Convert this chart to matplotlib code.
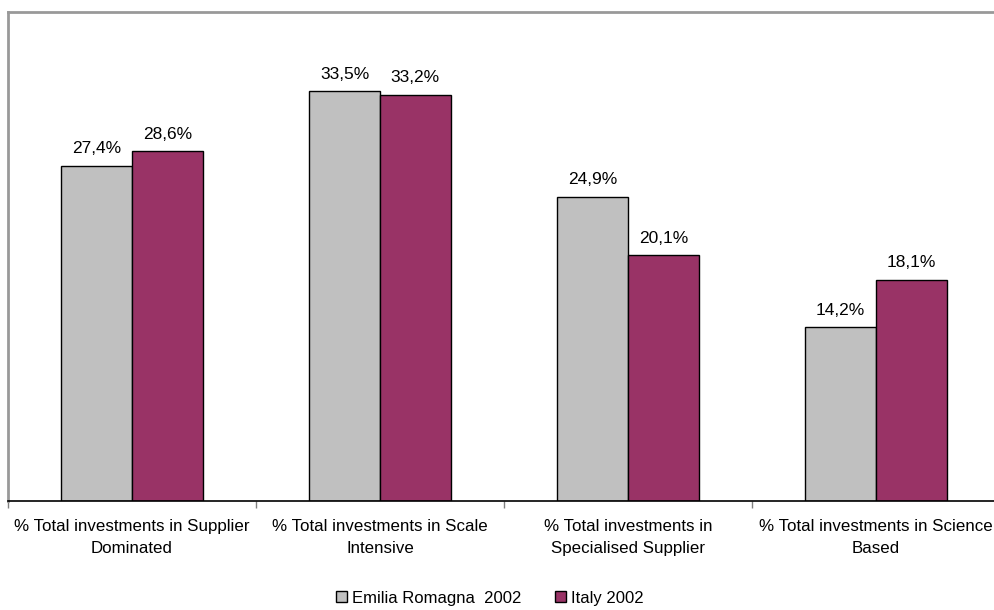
import matplotlib.pyplot as plt
import numpy as np

plt.rcParams['font.family'] = ['Liberation Sans', 'DejaVu Sans']

# Investment shares by sector type
categories = ['% Total investments in Supplier\nDominated',
              '% Total investments in Scale\nIntensive',
              '% Total investments in\nSpecialised Supplier',
              '% Total investments in Science\nBased']
emilia = [27.4, 33.5, 24.9, 14.2]
italy = [28.6, 33.2, 20.1, 18.1]
series_names = ['Emilia Romagna  2002', 'Italy 2002']

fig = plt.figure(figsize=(9.94, 6.1), dpi=100)
# plot area runs a bit past the right edge of the figure
ax = fig.add_axes([8 / 994, 109 / 610, 992 / 994, 489 / 610])

x = np.arange(len(categories))
w = 0.285
b1 = ax.bar(x - w / 2, emilia, w, color='#C0C0C0', edgecolor='black', linewidth=1, label=series_names[0])
b2 = ax.bar(x + w / 2, italy, w, color='#993366', edgecolor='black', linewidth=1, label=series_names[1])

for bars, vals in ((b1, emilia), (b2, italy)):
    for r, v in zip(bars, vals):
        ax.annotate(f'{v:.1f}%'.replace('.', ','), (r.get_x() + r.get_width() / 2, v),
                    xytext=(0, 7), textcoords='offset points', ha='center', va='bottom', fontsize=12.5)

ax.set_xlim(-0.5, len(categories) - 0.5)
ax.set_ylim(0, 40)
ax.set_yticks([])

ax.set_xticks(x)
ax.set_xticklabels(categories, fontsize=12.2, linespacing=1.55)
ax.tick_params(axis='x', length=0, pad=13)
ax.set_xticks(np.arange(len(categories) + 1) - 0.5, minor=True)
ax.tick_params(axis='x', which='minor', length=5, width=1, color='#808080')

for s in ('left', 'top', 'right'):
    ax.spines[s].set_color('#999999')
    ax.spines[s].set_linewidth(2)
ax.spines['bottom'].set_color('black')
ax.spines['bottom'].set_linewidth(1.2)

fig.legend(handles=[b1, b2], loc='center', bbox_to_anchor=(490 / 994, 12 / 610), ncol=2, frameon=False,
           fontsize=12, handlelength=0.65, handleheight=0.65, handletextpad=0.3, columnspacing=2.0)

fig.savefig('out.png', dpi=100)
